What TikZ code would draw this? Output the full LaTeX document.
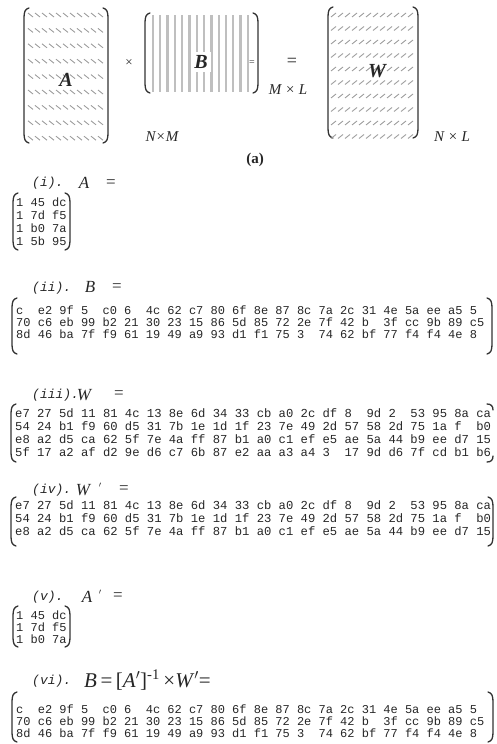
\documentclass[tikz,border=0pt]{standalone}
\usepackage{fontspec}
\setmainfont{Liberation Serif}
\setmonofont{Liberation Mono}
\newcommand{\brleft}[3]{\draw[brk] (#1+5,#2) .. controls (#1+1,#2+1) and (#1,#2+4) .. (#1,#2+10) -- (#1,#3-10) .. controls (#1,#3-4) and (#1+1,#3-1) .. (#1+5,#3);}
\newcommand{\brright}[3]{\draw[brk] (#1-5,#2) .. controls (#1-1,#2+1) and (#1,#2+4) .. (#1,#2+10) -- (#1,#3-10) .. controls (#1,#3-4) and (#1-1,#3-1) .. (#1-5,#3);}
\newcommand{\brhooks}[3]{\draw[brk] (#1-6,#2) .. controls (#1-2,#2) and (#1,#2+2) .. (#1,#2+6);
  \draw[brk] (#1-6,#3) .. controls (#1-2,#3) and (#1,#3-2) .. (#1,#3-6);}
\begin{document}
\begin{tikzpicture}[x=1pt,y=-1pt]
\tikzstyle{every node}=[inner sep=0pt,text=black!85]
\tikzstyle{brk}=[line width=1.3pt,black!80,line cap=round]
\tikzstyle{hexrow}=[anchor=west,font=\ttfamily\fontsize{12}{12}\selectfont]
\tikzstyle{hexwide}=[anchor=west,font=\ttfamily\fontsize{12.2}{12}\selectfont]
\tikzstyle{numlbl}=[anchor=west,font=\ttfamily\itshape\fontsize{13}{13}\selectfont]
\tikzstyle{varlbl}=[font=\itshape\fontsize{17}{17}\selectfont]
\tikzstyle{eqlbl}=[font=\fontsize{17}{17}\selectfont]
\tikzstyle{primelbl}=[font=\fontsize{8}{8}\selectfont]
\tikzstyle{bigvar}=[font=\bfseries\itshape\fontsize{20}{20}\selectfont]
\tikzstyle{dimlbl}=[font=\itshape\fontsize{15}{15}\selectfont]
\tikzstyle{hatch}=[gray!75,line width=0.9pt]
\tikzstyle{stripe}=[gray!50,line width=2.3pt]
\useasboundingbox (0,0) rectangle (497,744);

% (a)
\brleft{24}{8}{143} \brright{108}{8}{143}
\foreach \hr in {0,...,8}
  \foreach \hc in {0,...,10}
    \draw[hatch] (28+\hc*7,13+\hr*15.4) -- ++(5,4);
\node[bigvar] (A) at (66,80) {A};
\node[font=\fontsize{13}{13}\selectfont] (times) at (129,63) {×};
\brleft{145}{13}{93} \brright{258}{13}{93}
\foreach \hc in {0,...,13}
  \draw[stripe] (153+\hc*7.3,15) -- (153+\hc*7.3,92);
\node[bigvar,fill=white,inner sep=3pt] (B) at (201,62) {B};
\node[fill=white,font=\fontsize{10}{10}\selectfont] (Beq) at (252,63) {=};
\node[dimlbl] (ML) at (288,90) {M × L};
\node[font=\fontsize{18}{18}\selectfont] (eq) at (292,62) {=};
\node[dimlbl] (NM) at (162,137) {N×M};
\brleft{328}{7}{138} \brright{418}{7}{138}
\foreach \hr in {0,...,9}
  \foreach \hc in {0,...,11}
    \draw[hatch] (331+\hc*7,17+\hr*13.5) -- ++(5,-4);
\node[bigvar] (W) at (377,71) {W};
\node[dimlbl] (NL) at (452,137) {N × L};
\node[font=\bfseries\fontsize{15}{15}\selectfont] (cap) at (255,160) {(a)};

% (i)
\node[numlbl] (Ilbl) at (32,183) {(i).};
\node[varlbl] (Ivar) at (84,183) {A};
\node[eqlbl] (Ieq) at (111,184) {=};
\brleft{13}{193}{250} \brright{70}{193}{250}
\node[hexrow] (Ir1) at (16,202) {1 45 dc};
\node[hexrow] (Ir2) at (16,215) {1 7d f5};
\node[hexrow] (Ir3) at (16,228) {1 b0 7a};
\node[hexrow] (Ir4) at (16,241) {1 5b 95};

% (ii)
\node[numlbl] (IIlbl) at (32,288) {(ii).};
\node[varlbl] (IIvar) at (90,287) {B};
\node[eqlbl] (IIeq) at (117,288) {=};
\brleft{12}{298}{354} \brright{492}{298}{354}
\node[hexrow] (IIr1) at (16,310) {c~ e2 9f 5~ c0 6~ 4c 62 c7 80 6f 8e 87 8c 7a 2c 31 4e 5a ee a5 5};
\node[hexrow] (IIr2) at (16,322) {70 c6 eb 99 b2 21 30 23 15 86 5d 85 72 2e 7f 42 b~ 3f cc 9b 89 c5};
\node[hexrow] (IIr3) at (16,334) {8d 46 ba 7f f9 61 19 49 a9 93 d1 f1 75 3~ 74 62 bf 77 f4 f4 4e 8};

% (iii)
\node[numlbl] (IIIlbl) at (32,395) {(iii).};
\node[varlbl] (IIIvar) at (84,395) {W};
\node[eqlbl] (IIIeq) at (119,395) {=};
\brleft{11}{404}{462} \brhooks{493}{404}{462}
\node[hexwide] (IIIr1) at (15,413) {e7 27 5d 11 81 4c 13 8e 6d 34 33 cb a0 2c df 8~ 9d 2~ 53 95 8a ca};
\node[hexwide] (IIIr2) at (15,426) {54 24 b1 f9 60 d5 31 7b 1e 1d 1f 23 7e 49 2d 57 58 2d 75 1a f~ b0};
\node[hexwide] (IIIr3) at (15,439) {e8 a2 d5 ca 62 5f 7e 4a ff 87 b1 a0 c1 ef e5 ae 5a 44 b9 ee d7 15};
\node[hexwide] (IIIr4) at (15,452) {5f 17 a2 af d2 9e d6 c7 6b 87 e2 aa a3 a4 3~ 17 9d d6 7f cd b1 b6};

% (iv)
\node[numlbl] (IVlbl) at (32,490) {(iv).};
\node[varlbl] (IVvar) at (83,490) {W};
\node[primelbl] (IVprime) at (100,485) {$\prime$};
\node[eqlbl] (IVeq) at (124,490) {=};
\brleft{11}{497}{546} \brright{493}{497}{546}
\node[hexwide] (IVr1) at (15,505) {e7 27 5d 11 81 4c 13 8e 6d 34 33 cb a0 2c df 8~ 9d 2~ 53 95 8a ca};
\node[hexwide] (IVr2) at (15,518) {54 24 b1 f9 60 d5 31 7b 1e 1d 1f 23 7e 49 2d 57 58 2d 75 1a f~ b0};
\node[hexwide] (IVr3) at (15,531) {e8 a2 d5 ca 62 5f 7e 4a ff 87 b1 a0 c1 ef e5 ae 5a 44 b9 ee d7 15};

% (v)
\node[numlbl] (Vlbl) at (32,597) {(v).};
\node[varlbl] (Vvar) at (87,597) {A};
\node[primelbl] (Vprime) at (100,592) {$\prime$};
\node[eqlbl] (Veq) at (118,597) {=};
\brleft{13}{606}{647} \brright{70}{606}{647}
\node[hexrow] (Vr1) at (16,615) {1 45 dc};
\node[hexrow] (Vr2) at (16,627) {1 7d f5};
\node[hexrow] (Vr3) at (16,639) {1 b0 7a};

% (vi)
\node[numlbl] (VIlbl) at (32,681) {(vi).};
\node[anchor=west,font=\fontsize{21}{21}\selectfont] (VIeq) at (84,680)
  {\textit{B}\,=\,[\textit{A}$'$]\textsuperscript{-1}\,×\textit{W}$'$=};
\brleft{12}{692}{742} \brright{493}{692}{742}
\node[hexrow] (VIr1) at (16,709) {c~ e2 9f 5~ c0 6~ 4c 62 c7 80 6f 8e 87 8c 7a 2c 31 4e 5a ee a5 5};
\node[hexrow] (VIr2) at (16,721) {70 c6 eb 99 b2 21 30 23 15 86 5d 85 72 2e 7f 42 b~ 3f cc 9b 89 c5};
\node[hexrow] (VIr3) at (16,733) {8d 46 ba 7f f9 61 19 49 a9 93 d1 f1 75 3~ 74 62 bf 77 f4 f4 4e 8};
\end{tikzpicture}
\end{document}
